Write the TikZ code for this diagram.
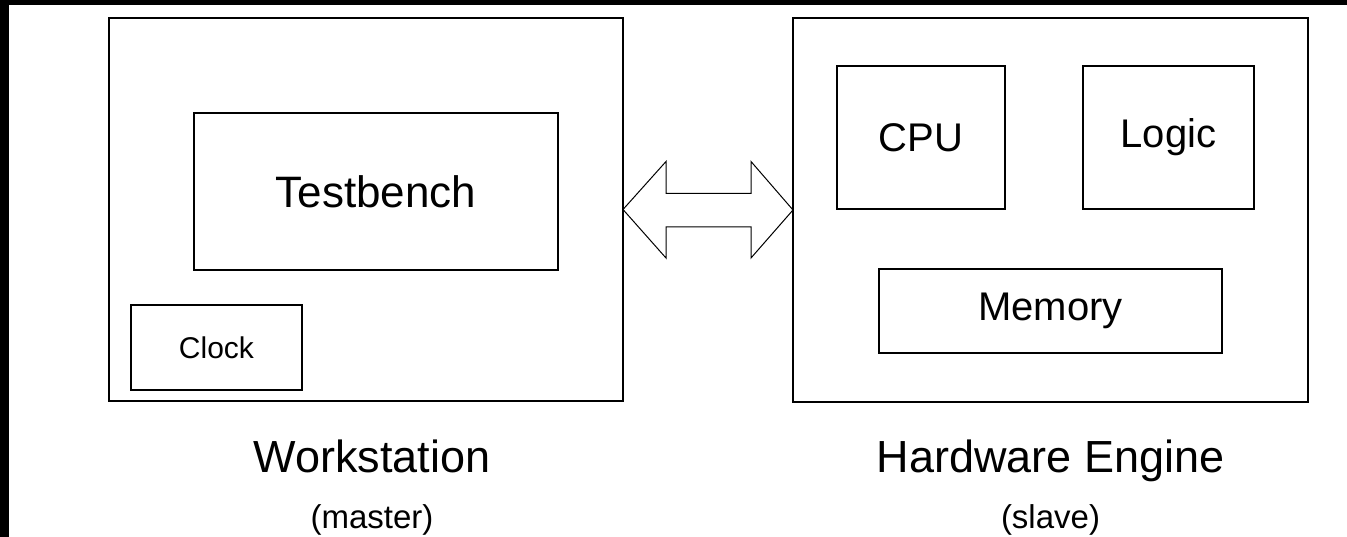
\documentclass[tikz,border=0pt]{standalone}
\usepackage{fontspec}
\setmainfont{Liberation Sans}
\begin{document}
\begin{tikzpicture}[x=1pt,y=-1pt,
  box/.style={draw, line width=1.8pt, inner sep=0pt, outer sep=0pt},
  lbl/.style={inner sep=0pt, anchor=base},
  fs/.style={font=\fontsize{#1}{#1}\selectfont}]
\useasboundingbox (0,0) rectangle (1347,537);
\fill[white] (0,0) rectangle (1347,537);
\fill[black] (0,0) rectangle (9,537);
\fill[black] (0,0) rectangle (1347,5);
% outer boxes
\node[box, minimum width=514pt, minimum height=383pt] (lw) at (366,209.5) {};
\node[box, minimum width=515pt, minimum height=384pt] (rw) at (1050.5,210) {};
% inner boxes
\node[box, minimum width=364pt, minimum height=157pt, fs=44] (tb) at (376,191.5) {Testbench};
\node[box, minimum width=171pt, minimum height=85pt, fs=30] (clk) at (216.5,347.5) {Clock};
\node[box, minimum width=168pt, minimum height=143pt, fs=40] (cpu) at (921,137.5) {CPU};
\node[box, minimum width=171pt, minimum height=143pt, fs=40] (logic) at (1168.5,137.5) {Logic};
\node[box, minimum width=343pt, minimum height=84pt, fs=40] (mem) at (1050.5,311) {Memory};
% captions
\node[lbl, fs=45] (wsl) at (372,472) {Workstation};
\node[lbl, fs=33] (wss) at (372,528) {(master)};
\node[lbl, fs=45] (hel) at (1050.5,472) {Hardware Engine};
\node[lbl, fs=33] (hes) at (1050.5,528) {(slave)};
% double arrow
\draw[line width=1pt, line join=miter] (lw.east) -- ++(43,-48) -- ++(0,32) -- ++(85,0) -- ++(0,-32)
  -- (rw.west) -- ++(-42,48) -- ++(0,-31) -- ++(-85,0) -- ++(0,31) -- cycle;
\end{tikzpicture}
\end{document}
